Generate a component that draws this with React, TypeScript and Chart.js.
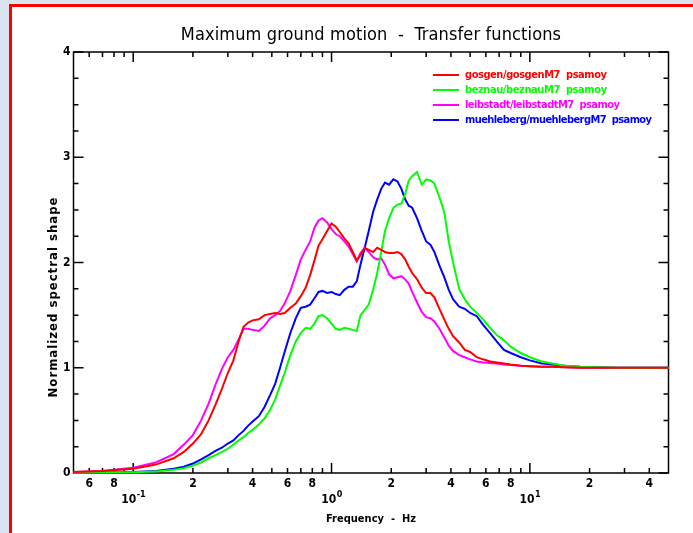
import React, { useEffect, useRef } from "react";
import { Chart, registerables } from "chart.js";

Chart.register(...registerables);

const chartTitle = "Maximum ground motion  -  Transfer functions";
const xTitle = "Frequency  -  Hz";
const yTitle = "Normalized spectral shape";

const frequencies = [
  0.05, 0.07, 0.1, 0.13, 0.16, 0.18, 0.2, 0.22, 0.24, 0.26, 0.28, 0.3, 0.32, 0.34, 0.36, 0.38, 0.4,
  0.43, 0.46, 0.49, 0.52, 0.55, 0.58, 0.62, 0.66, 0.7, 0.74, 0.78, 0.82, 0.86, 0.9, 0.95, 1.0, 1.05,
  1.1, 1.16, 1.22, 1.28, 1.34, 1.4, 1.47, 1.54, 1.62, 1.7, 1.78, 1.86, 1.95, 2.05, 2.15, 2.25, 2.35,
  2.45, 2.55, 2.7, 2.85, 3.0, 3.15, 3.3, 3.5, 3.7, 3.9, 4.1, 4.4, 4.7, 5.0, 5.4, 5.8, 6.3, 6.8, 7.4,
  8.0, 9.0, 10, 11.5, 13, 15, 18, 22, 28, 35, 50,
];

const gosgen = [
  0.01, 0.02, 0.04, 0.08, 0.14, 0.2, 0.28, 0.37, 0.5, 0.65, 0.8, 0.95, 1.07, 1.25, 1.39, 1.43, 1.45,
  1.46, 1.5, 1.51, 1.52, 1.51, 1.52, 1.57, 1.61, 1.68, 1.76, 1.88, 2.02, 2.16, 2.22, 2.3, 2.37, 2.34,
  2.29, 2.23, 2.18, 2.1, 2.02, 2.07, 2.14, 2.12, 2.1, 2.14, 2.12, 2.1, 2.09, 2.09, 2.1, 2.08, 2.03,
  1.96, 1.9, 1.84, 1.76, 1.71, 1.71, 1.67, 1.56, 1.46, 1.37, 1.3, 1.24, 1.17, 1.15, 1.1, 1.08, 1.06,
  1.05, 1.04, 1.03, 1.02, 1.015, 1.01, 1.01, 1.005, 1.0, 1.0, 1.0, 1.0, 1.0,
];

const beznau = [
  0.002, 0.004, 0.008, 0.015, 0.03, 0.045, 0.07, 0.1, 0.14, 0.17, 0.2, 0.23, 0.27, 0.31, 0.34, 0.38,
  0.41, 0.46, 0.52, 0.6, 0.7, 0.83, 0.95, 1.12, 1.25, 1.33, 1.38, 1.37, 1.42, 1.49, 1.5, 1.47, 1.42,
  1.37, 1.36, 1.38, 1.37, 1.36, 1.35, 1.5, 1.55, 1.6, 1.74, 1.9, 2.1, 2.3, 2.42, 2.52, 2.55, 2.56,
  2.65, 2.78, 2.82, 2.86, 2.74, 2.79, 2.78, 2.75, 2.62, 2.48, 2.2, 2.0, 1.75, 1.65, 1.58, 1.52, 1.46,
  1.38, 1.31, 1.26, 1.2, 1.14, 1.1, 1.06, 1.04, 1.02, 1.01, 1.005, 1.0, 1.0, 1.0,
];

const leibstadt = [
  0.01, 0.02, 0.05, 0.1, 0.18, 0.27, 0.36, 0.5, 0.66, 0.84, 0.99, 1.1, 1.17, 1.27, 1.37, 1.37, 1.36,
  1.35, 1.4, 1.47, 1.5, 1.54, 1.61, 1.73, 1.88, 2.03, 2.12, 2.2, 2.33, 2.4, 2.42, 2.38, 2.32, 2.27,
  2.25, 2.2, 2.15, 2.08, 2.01, 2.09, 2.14, 2.1, 2.05, 2.03, 2.04, 1.98, 1.89, 1.85, 1.86, 1.87, 1.84,
  1.8, 1.72, 1.62, 1.53, 1.48, 1.47, 1.44, 1.37, 1.29, 1.21, 1.16, 1.12, 1.1, 1.08, 1.06, 1.05, 1.045,
  1.04, 1.03, 1.025, 1.02, 1.015, 1.01, 1.01, 1.005, 1.0, 1.0, 1.0, 1.0, 1.0,
];

const muehleberg = [
  0.003, 0.005, 0.01, 0.02, 0.04, 0.06, 0.09, 0.13, 0.17, 0.21, 0.24, 0.28, 0.31, 0.36, 0.4, 0.45,
  0.49, 0.54, 0.63, 0.74, 0.85, 1.0, 1.15, 1.33, 1.47, 1.57, 1.58, 1.6, 1.66, 1.72, 1.73, 1.71, 1.72,
  1.7, 1.69, 1.74, 1.77, 1.77, 1.82, 1.98, 2.14, 2.3, 2.48, 2.6, 2.7, 2.76, 2.74, 2.79, 2.77, 2.7,
  2.6, 2.54, 2.52, 2.42, 2.3, 2.2, 2.17, 2.1, 1.97, 1.86, 1.74, 1.65, 1.58, 1.56, 1.52, 1.49, 1.41,
  1.33, 1.25, 1.17, 1.14, 1.1, 1.07, 1.04, 1.03, 1.02, 1.01, 1.005, 1.0, 1.0, 1.0,
];

const seriesLabels = [
  "gosgen/gosgenM7  psamoy",
  "beznau/beznauM7  psamoy",
  "leibstadt/leibstadtM7  psamoy",
  "muehleberg/muehlebergM7  psamoy",
];
const seriesColors = ["#ff0000", "#00ff00", "#ff00ff", "#0000ff"];
const seriesValues = [gosgen, beznau, leibstadt, muehleberg];

const xMin = 0.05;
const xMax = 50;
const yMin = 0;
const yMax = 4;
const xMajorTicks = [0.1, 1, 10];
const xMajorExponents = ["-1", "0", "1"];
const xMinorTicks = [
  0.06, 0.07, 0.08, 0.09, 0.2, 0.3, 0.4, 0.5, 0.6, 0.7, 0.8, 0.9, 2, 3, 4, 5, 6, 7, 8, 9, 20, 30, 40,
];
const xDigitTicks = [0.06, 0.08, 0.2, 0.4, 0.6, 0.8, 2, 4, 6, 8, 20, 40];
const xDigitLabels = ["6", "8", "2", "4", "6", "8", "2", "4", "6", "8", "2", "4"];
const yMajorTicks = [0, 1, 2, 3, 4];
const yMajorLabels = ["0", "1", "2", "3", "4"];
const yMinorTicks = [0.25, 0.5, 0.75, 1.25, 1.5, 1.75, 2.25, 2.5, 2.75, 3.25, 3.5, 3.75];

const FONT = '"DejaVu Sans Condensed", "Liberation Sans", sans-serif';

function fitText(
  ctx: CanvasRenderingContext2D,
  text: string,
  x: number,
  y: number,
  font: string,
  width: number | null,
  align: CanvasTextAlign = "center"
) {
  ctx.font = font;
  (ctx as any).letterSpacing = "0px";
  if (width !== null) {
    const w = ctx.measureText(text).width;
    const sp = (width - w) / Math.max(1, text.length - 1);
    (ctx as any).letterSpacing = sp.toFixed(2) + "px";
  }
  ctx.textAlign = align;
  ctx.textBaseline = "middle";
  ctx.fillText(text, x, y);
  (ctx as any).letterSpacing = "0px";
}

const framePlugin = {
  id: "framePlugin",
  beforeDraw(chart: any) {
    const { ctx, width, height } = chart;
    ctx.save();
    ctx.fillStyle = "#dae4f0";
    ctx.fillRect(0, 0, width, height);
    ctx.fillStyle = "#ffffff";
    ctx.fillRect(12, 7, width - 12, height - 7);
    ctx.fillStyle = "#ff0000";
    ctx.fillRect(9, 4, width - 9, 3);
    ctx.fillRect(9, 4, 3, height - 4);
    ctx.restore();
  },
  beforeDatasetsDraw(chart: any) {
    const { ctx } = chart;
    const { left, right, top, bottom } = chart.chartArea;
    const xs = chart.scales.x;
    const ys = chart.scales.y;
    ctx.save();
    ctx.strokeStyle = "#000000";
    ctx.lineWidth = 1.5;
    ctx.strokeRect(left, top, right - left, bottom - top);
    ctx.beginPath();
    const xt = (v: number, len: number) => {
      const p = xs.getPixelForValue(v);
      ctx.moveTo(p, bottom);
      ctx.lineTo(p, bottom - len);
      ctx.moveTo(p, top);
      ctx.lineTo(p, top + len);
    };
    xMajorTicks.forEach((v) => xt(v, 10));
    xMinorTicks.forEach((v) => xt(v, 5));
    const yt = (v: number, len: number) => {
      const p = ys.getPixelForValue(v);
      ctx.moveTo(left, p);
      ctx.lineTo(left + len, p);
      ctx.moveTo(right, p);
      ctx.lineTo(right - len, p);
    };
    yMajorTicks.forEach((v) => yt(v, 10));
    yMinorTicks.forEach((v) => yt(v, 5));
    ctx.stroke();
    ctx.restore();
  },
  afterDraw(chart: any) {
    const { ctx } = chart;
    const { left, right, bottom } = chart.chartArea;
    const xs = chart.scales.x;
    const ys = chart.scales.y;
    ctx.save();
    ctx.fillStyle = "#000000";
    const cx = (left + right) / 2;
    fitText(ctx, chartTitle, cx, 35, `18px ${FONT}`, 380);
    fitText(ctx, xTitle, cx, 519, `bold 11px ${FONT}`, 90);
    ctx.save();
    ctx.translate(54, 297);
    ctx.rotate(-Math.PI / 2);
    fitText(ctx, yTitle, 0, 0, `bold 13px ${FONT}`, 200);
    ctx.restore();

    xDigitTicks.forEach((v, i) => {
      fitText(ctx, xDigitLabels[i], xs.getPixelForValue(v), bottom + 11, `bold 12px ${FONT}`, null);
    });
    xMajorTicks.forEach((v, i) => {
      const p = xs.getPixelForValue(v);
      ctx.font = `bold 12px ${FONT}`;
      const wBase = ctx.measureText("10").width;
      ctx.font = `bold 9px ${FONT}`;
      const wExp = ctx.measureText(xMajorExponents[i]).width;
      const start = p - (wBase + wExp) / 2;
      fitText(ctx, "10", start, bottom + 27, `bold 12px ${FONT}`, null, "left");
      fitText(ctx, xMajorExponents[i], start + wBase + 0.5, bottom + 22, `bold 9px ${FONT}`, null, "left");
    });
    yMajorTicks.forEach((v, i) => {
      fitText(ctx, yMajorLabels[i], left - 3, ys.getPixelForValue(v), `bold 12px ${FONT}`, null, "right");
    });

    const legendY = [75, 90, 105, 120];
    const legendW = [142, 142, 155, 187];
    seriesLabels.forEach((lab, i) => {
      ctx.strokeStyle = seriesColors[i];
      ctx.lineWidth = 2;
      ctx.beginPath();
      ctx.moveTo(433, legendY[i]);
      ctx.lineTo(459, legendY[i]);
      ctx.stroke();
      ctx.fillStyle = seriesColors[i];
      fitText(ctx, lab, 465, legendY[i], `bold 11px ${FONT}`, legendW[i], "left");
    });
    ctx.restore();
  },
};

export default function App() {
  const canvasRef = useRef<HTMLCanvasElement | null>(null);

  useEffect(() => {
    const canvas = canvasRef.current;
    if (!canvas) return;
    const chart = new Chart(canvas, {
      type: "line",
      data: {
        datasets: seriesLabels.map((label, i) => ({
          label,
          data: frequencies.map((f, j) => ({ x: f, y: seriesValues[i][j] })),
          borderColor: seriesColors[i],
          backgroundColor: seriesColors[i],
          borderWidth: 2,
          pointRadius: 0,
          tension: 0,
          fill: false,
          clip: false as any,
        })),
      },
      options: {
        animation: false,
        responsive: false,
        maintainAspectRatio: false,
        devicePixelRatio: 1,
        layout: { padding: { left: 73.5, right: 24.5, top: 52, bottom: 60 } },
        scales: {
          x: { type: "logarithmic", min: xMin, max: xMax, display: false },
          y: { type: "linear", min: yMin, max: yMax, display: false },
        },
        plugins: {
          legend: { display: false },
          tooltip: { enabled: false },
          title: { display: false },
        },
      },
      plugins: [framePlugin],
    });
    return () => chart.destroy();
  }, []);

  return (
    <div style={{ position: "absolute", left: 0, top: 0, width: 693, height: 533 }}>
      <canvas ref={canvasRef} width={693} height={533} style={{ display: "block", width: 693, height: 533 }} />
    </div>
  );
}
